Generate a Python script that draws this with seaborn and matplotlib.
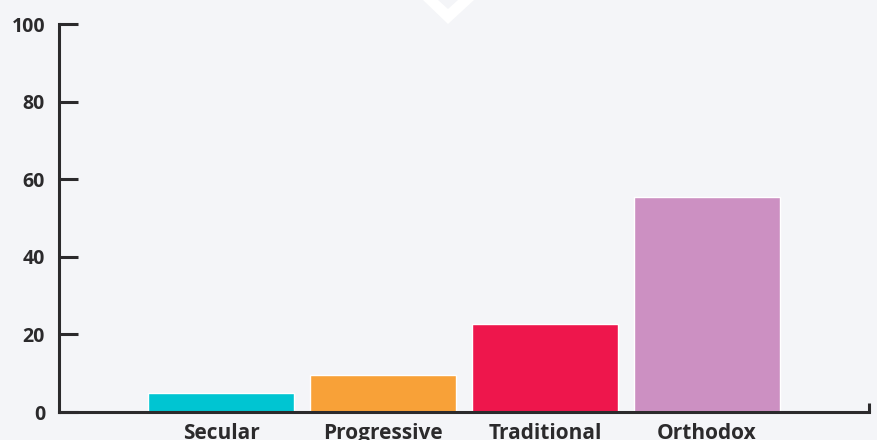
import matplotlib
matplotlib.use("Agg")
import matplotlib.pyplot as plt
import seaborn as sns
import pandas as pd
from matplotlib.patches import Polygon

categories = ["Secular", "Progressive", "Traditional", "Orthodox"]
values = [4.9, 9.5, 22.7, 55.4]
colors = ["#00C5D2", "#F8A138", "#EE164C", "#CC90C2"]
yticks = [0, 20, 40, 60, 80, 100]

bg = "#F4F5F8"
ink = "#2B2A2C"

sns.set_theme(style="white")
plt.rcParams["font.family"] = ["Open Sans", "DejaVu Sans"]

fig = plt.figure(figsize=(8.77, 4.40), dpi=100, facecolor=bg)
ax = fig.add_axes([59 / 877, 28 / 440, 810 / 877, 388 / 440])
ax.set_facecolor(bg)

df = pd.DataFrame({"category": categories, "value": values})
sns.barplot(data=df, x="category", y="value", hue="category",
            palette=colors, width=0.9, saturation=1, legend=False, ax=ax)

ax.set_xlim(-1, 4)
ax.set_ylim(0, 100)
ax.set_yticks(yticks)
ax.set_xlabel("")
ax.set_ylabel("")

for s in ["top", "right"]:
    ax.spines[s].set_visible(False)
for s in ["left", "bottom"]:
    ax.spines[s].set_color(ink)
    ax.spines[s].set_linewidth(2.2)

ax.tick_params(axis="y", left=True, direction="in", length=14, width=2.2,
               color=ink, pad=10, labelsize=14, labelcolor=ink)
ax.tick_params(axis="x", bottom=True, length=0, pad=8, labelsize=15,
               labelcolor=ink)
for lab in ax.get_xticklabels() + ax.get_yticklabels():
    lab.set_fontweight("bold")

# small upward tick at the right end of the x axis
ax.set_xticks([4], minor=True)
ax.tick_params(axis="x", which="minor", bottom=True, direction="in",
               length=6.5, width=2.2, color=ink)

# white chevron at the top
H = 440
pts = [(423, 0), (448, 24), (474, 0), (458, 0), (448, 9), (438, 0)]
chevron = Polygon([(x / 877, (H - y) / H) for x, y in pts], closed=True,
                  transform=fig.transFigure, facecolor="white",
                  edgecolor="none", zorder=10)
fig.patches.append(chevron)

fig.savefig("out.png", dpi=100, facecolor=bg)
